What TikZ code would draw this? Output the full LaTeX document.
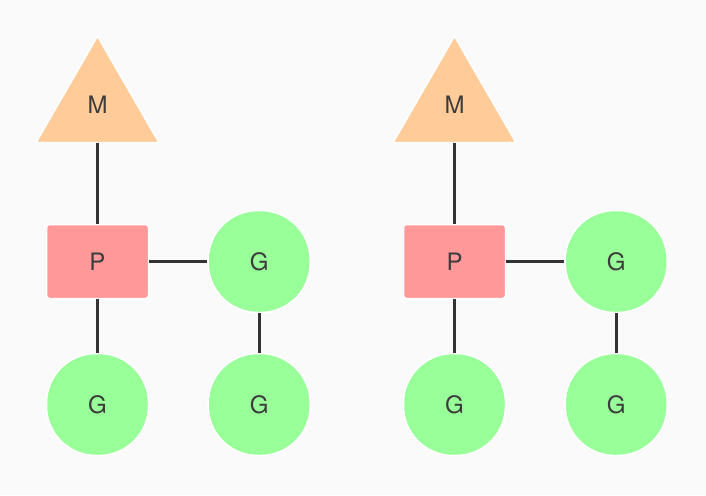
\documentclass[tikz,border=0pt]{standalone}
\usepackage{fontspec}
\setmainfont{TeX Gyre Heros}
\usetikzlibrary{shapes.geometric}
\definecolor{bgc}{HTML}{FAFAFA}
\definecolor{mcol}{HTML}{FFCC99}
\definecolor{pcol}{HTML}{FF9999}
\definecolor{gcol}{HTML}{99FF99}
\definecolor{linec}{HTML}{333333}
\definecolor{txtc}{HTML}{3C3C3C}
\tikzset{
  base/.style={draw=white, line width=1.5pt, inner sep=0pt, text=txtc, font=\fontsize{24}{24}\selectfont},
  mnode/.style={base, fill=mcol, regular polygon, regular polygon sides=3, minimum size=142pt},
  pnode/.style={base, fill=pcol, rectangle, rounded corners=3pt, minimum width=102pt, minimum height=74pt},
  gnode/.style={base, fill=gcol, rectangle, rounded corners=49.5pt, minimum width=102pt, minimum height=102pt},
  conn/.style={draw=linec, line width=2.6pt}
}
\begin{document}
\begin{tikzpicture}[x=1pt,y=-1pt]
\fill[bgc] (0,0) rectangle (706,495);
\useasboundingbox (0,0) rectangle (706,495);
\foreach \dx/\s in {0/a,357/b}{
  \node[mnode] (M\s) at (97.5+\dx,107.2) {};
  \node[txtc, font=\fontsize{24}{24}\selectfont] (Mt\s) at (97.5+\dx,105) {M};
  \node[pnode] (P\s) at (97.5+\dx,261.5) {P};
  \node[gnode] (G1\s) at (259.2+\dx,261.5) {G};
  \node[gnode] (G2\s) at (97.5+\dx,404.5) {G};
  \node[gnode] (G3\s) at (259.2+\dx,404.5) {G};
  \draw[conn] (M\s) -- (P\s);
  \draw[conn] (P\s) -- (G1\s);
  \draw[conn] (P\s) -- (G2\s);
  \draw[conn] (G1\s) -- (G3\s);
}
\end{tikzpicture}
\end{document}
